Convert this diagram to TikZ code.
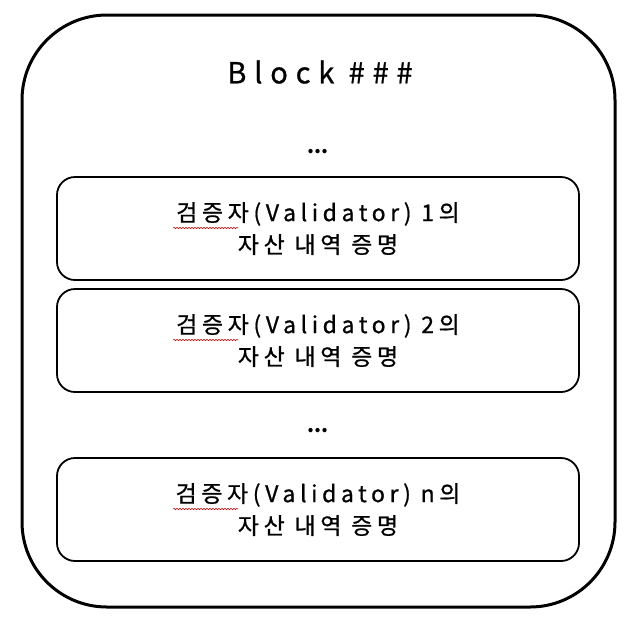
\documentclass[tikz,border=0pt]{standalone}
\usepackage{fontspec}
\setmainfont{Noto Sans CJK KR}
\newfontfamily\widefont[LetterSpace=20,FakeBold=0.8]{Noto Sans CJK KR}
\newfontfamily\titlefont[LetterSpace=27,FakeBold=0.8]{Noto Sans CJK KR}
\usetikzlibrary{decorations.pathmorphing}
\tikzset{
  outerbox/.style={draw=black, line width=3pt, rounded corners=85pt},
  valbox/.style={draw=black, line width=1.8pt, rounded corners=18pt, minimum width=522pt, minimum height=103pt, align=center, font=\widefont\fontsize{23}{32}\selectfont, inner sep=0pt},
  title/.style={font=\titlefont\fontsize{29}{34}\selectfont},
  dotstyle/.style={font=\fontsize{20}{24}\bfseries\selectfont},
  squiggle/.style={draw=red!80!black, line width=0.5pt, decorate, decoration={snake, amplitude=0.8pt, segment length=3pt}}
}
\begin{document}
\begin{tikzpicture}[x=1pt, y=-1pt]
\useasboundingbox (0,0) rectangle (636,630);
\draw[outerbox] (22,15) rectangle (615,607);
\node[title] (t) at (320,72) {Block \#\#\#};
\node[dotstyle] (d1) at (318,152) {...};
\node[valbox] (b1) at (318,228.5) {검증자(Validator) 1의\\자산 내역 증명};
\node[valbox] (b2) at (318,340.5) {검증자(Validator) 2의\\자산 내역 증명};
\node[dotstyle] (d2) at (318,431) {...};
\node[valbox] (b3) at (318,509.5) {검증자(Validator) n의\\자산 내역 증명};
\draw[squiggle] (173,228) -- (238,228);
\draw[squiggle] (173,340) -- (238,340);
\draw[squiggle] (173,509) -- (238,509);
\end{tikzpicture}
\end{document}
